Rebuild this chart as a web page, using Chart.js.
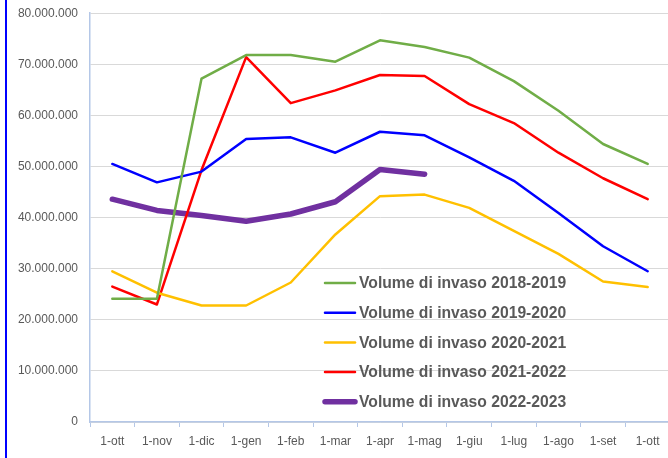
<!DOCTYPE html>
<html>
<head>
<meta charset="utf-8">
<script src="https://cdn.jsdelivr.net/npm/chart.js@4.4.1/dist/chart.umd.min.js"></script>
<style>
  html, body { margin: 0; padding: 0; background: #fff; overflow: hidden; }
  #wrap { position: absolute; left: 0; top: -6px; width: 672px; height: 464px; }
  #edge { position: absolute; left: 5px; top: 0; width: 2px; height: 458px; background: #0000ff; }
</style>
</head>
<body>
<div id="wrap"><canvas id="c"></canvas></div>
<div id="edge"></div>
<script>
const categories = ['1-ott','1-nov','1-dic','1-gen','1-feb','1-mar','1-apr','1-mag','1-giu','1-lug','1-ago','1-set','1-ott'];
const seriesNames = ['Volume di invaso 2018-2019','Volume di invaso 2019-2020','Volume di invaso 2020-2021','Volume di invaso 2021-2022','Volume di invaso 2022-2023'];
const vol2018_2019 = [24100000, 24100000, 67200000, 71800000, 71800000, 70500000, 74700000, 73400000, 71300000, 66700000, 60900000, 54400000, 50500000];
const vol2019_2020 = [50500000, 46900000, 49000000, 55400000, 55700000, 52700000, 56800000, 56100000, 51800000, 47200000, 40900000, 34400000, 29500000];
const vol2020_2021 = [29500000, 25300000, 22800000, 22800000, 27300000, 36700000, 44200000, 44500000, 41900000, 37400000, 32900000, 27500000, 26400000];
const vol2021_2022 = [26500000, 23000000, 49300000, 71400000, 62400000, 64900000, 67900000, 67700000, 62200000, 58500000, 52700000, 47700000, 43600000];
const vol2022_2023 = [43600000, 41400000, 40400000, 39300000, 40700000, 43100000, 49400000, 48500000, null, null, null, null, null];
const yTicks = [0, 10000000, 20000000, 30000000, 40000000, 50000000, 60000000, 70000000, 80000000];

const colors = ['#70AD47', '#0000FF', '#FFC000', '#FF0000', '#7030A0'];
const widths = [2.5, 2.5, 2.5, 2.5, 5.5];
const allData = [vol2018_2019, vol2019_2020, vol2020_2021, vol2021_2022, vol2022_2023];

function fmt(v) {
  const s = Math.round(v).toString();
  return s.replace(/\B(?=(\d{3})+(?!\d))/g, '.');
}

const legendPlugin = {
  id: 'insideLegend',
  afterDraw(chart) {
    const ctx = chart.ctx;
    const off = 6;
    const x0 = 325, x1 = 355, tx = 359, y0 = 283 + off, dy = 29.7;
    ctx.save();
    chart.data.datasets.forEach((ds, i) => {
      const y = y0 + i * dy;
      ctx.beginPath();
      ctx.strokeStyle = ds.borderColor;
      ctx.lineWidth = ds.borderWidth;
      ctx.lineCap = 'round';
      ctx.moveTo(x0, y);
      ctx.lineTo(x1, y);
      ctx.stroke();
      ctx.fillStyle = '#595959';
      ctx.font = 'bold 15.7px "Liberation Sans", Arial, sans-serif';
      ctx.textBaseline = 'middle';
      ctx.textAlign = 'left';
      ctx.fillText(ds.label, tx, y + 1);
    });
    ctx.restore();
  }
};

new Chart(document.getElementById('c'), {
  type: 'line',
  data: {
    labels: categories,
    datasets: allData.map((d, i) => ({
      label: seriesNames[i],
      data: d,
      borderColor: colors[i],
      backgroundColor: colors[i],
      borderWidth: widths[i],
      pointRadius: 0,
      pointHoverRadius: 0,
      tension: 0,
      fill: false,
      borderJoinStyle: 'round',
      borderCapStyle: 'round',
      spanGaps: false
    }))
  },
  options: {
    responsive: true,
    maintainAspectRatio: false,
    animation: false,
    events: [],
    layout: { padding: { left: 0, right: 2, top: 6, bottom: 0 } },
    plugins: {
      legend: { display: false },
      tooltip: { enabled: false },
      title: { display: false }
    },
    scales: {
      x: {
        offset: true,
        grid: {
          offset: true,
          drawOnChartArea: false,
          drawTicks: true,
          tickLength: 5,
          tickColor: '#B4C7E7'
        },
        border: { display: true, color: '#B4C7E7', width: 1.5 },
        ticks: {
          color: '#595959',
          font: { family: '"Liberation Sans", Arial, sans-serif', size: 12 },
          padding: 7,
          maxRotation: 0,
          autoSkip: false
        },
        afterFit(scale) { scale.height = 36; }
      },
      y: {
        min: 0,
        max: 80000000,
        afterBuildTicks(scale) { scale.ticks = yTicks.map(v => ({ value: v })); },
        grid: { color: '#D9D9D9', lineWidth: 1, drawTicks: false },
        border: { display: true, color: '#B4C7E7', width: 1.5 },
        ticks: {
          color: '#595959',
          font: { family: '"Liberation Sans", Arial, sans-serif', size: 12 },
          padding: 12,
          callback: (v) => fmt(v)
        },
        afterFit(scale) { scale.width = 90; }
      }
    }
  },
  plugins: [legendPlugin]
});
</script>
</body>
</html>
